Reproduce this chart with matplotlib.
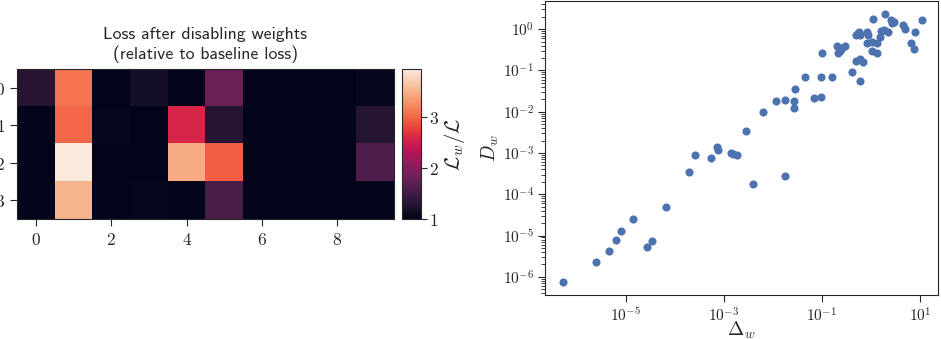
import numpy as np
import matplotlib
matplotlib.use("Agg")
import matplotlib.pyplot as plt
import seaborn as sns
from matplotlib.ticker import FixedLocator, FuncFormatter, LogLocator, NullLocator, NullFormatter

sns.set_style("ticks")
plt.rcParams["mathtext.fontset"] = "cm"
plt.rcParams["axes.edgecolor"] = ".15"

# heatmap: loss after disabling weight (row, col) relative to baseline loss
loss_ratio = np.array([
    [1.32, 3.08, 1.00, 1.17, 1.00, 1.82, 1.00, 1.00, 1.00, 1.05],
    [1.00, 3.00, 1.04, 1.00, 2.58, 1.30, 1.00, 1.00, 1.02, 1.30],
    [1.00, 3.94, 1.00, 1.00, 3.45, 2.95, 1.00, 1.00, 1.00, 1.62],
    [1.00, 3.52, 1.00, 1.04, 1.00, 1.58, 1.00, 1.00, 1.00, 1.00],
])

# scatter: log10 of Delta_w and D_w for each weight
log_delta = [-6.29, -5.61, -5.35, -5.20, -5.10, -4.86, -4.57, -4.47, -4.18, -3.72,
             -3.58, -3.26, -3.15, -3.11, -2.85, -2.82, -2.73, -2.55, -2.40, -2.21,
             -1.93, -1.76, -1.76, -1.57, -1.57, -1.54, -1.35, -1.16, -1.01, -1.01,
             -0.99, -0.80, -0.70, -0.67, -0.62, -0.58, -0.53, -0.39, -0.31, -0.31,
             -0.27, -0.24, -0.22, -0.22, -0.22, -0.17, -0.07, -0.06, -0.08, 0.02,
             0.03, 0.05, 0.12, 0.13, 0.18, 0.20, 0.27, 0.29, 0.34, 0.42,
             0.44, 0.47, 0.65, 0.69, 0.81, 0.88, 0.90, 1.05]
log_dw = [-6.12, -5.65, -5.38, -5.11, -4.90, -4.60, -5.27, -5.12, -4.30, -3.45,
          -3.06, -3.13, -2.85, -2.93, -2.99, -3.02, -3.06, -2.47, -3.75, -2.01,
          -1.75, -1.72, -3.55, -1.75, -1.90, -1.46, -1.17, -1.67, -1.64, -1.17,
          -0.57, -1.16, -0.42, -0.58, -0.52, -0.46, -0.40, -1.03, -0.14, -0.76,
          -0.10, -0.06, -0.15, -0.72, -1.25, -0.80, -0.06, -0.14, -0.34, -0.54,
          -0.32, 0.25, -0.34, -0.57, -0.19, -0.04, -0.02, 0.37, -0.08, 0.23,
          0.15, 0.18, 0.11, 0.01, -0.34, -0.49, -0.06, 0.21]

delta_w = 10.0 ** np.array(log_delta)
d_w = 10.0 ** np.array(log_dw)

fig = plt.figure(figsize=(9.41, 3.39), dpi=100)
ax_h = fig.add_axes([0.018, 0.354, 0.4006, 0.4425])
ax_c = fig.add_axes([0.4272, 0.354, 0.0202, 0.4425])
ax_s = fig.add_axes([0.5792, 0.1298, 0.4176, 0.867])

math_fmt = FuncFormatter(lambda v, p: r"$%d$" % int(round(v)))

# --- heatmap ---
im = ax_h.imshow(loss_ratio, cmap="rocket", aspect="auto", interpolation="nearest",
                 vmin=loss_ratio.min(), vmax=loss_ratio.max())
ax_h.set_xticks([0, 2, 4, 6, 8])
ax_h.set_yticks([0, 1, 2, 3])
ax_h.xaxis.set_major_formatter(math_fmt)
ax_h.yaxis.set_major_formatter(math_fmt)
ax_h.tick_params(labelsize=12.5, length=5)
ax_h.set_title("Loss after disabling weights\n(relative to baseline loss)",
               family="cmss10", fontsize=12.8, pad=7, linespacing=1.25)

cb = fig.colorbar(im, cax=ax_c)
cb.set_ticks([1, 2, 3])
cb.ax.yaxis.set_major_formatter(math_fmt)
cb.ax.tick_params(labelsize=12.5, length=4, pad=2)
cb.set_label(r"$\mathcal{L}_w/\mathcal{L}$", fontsize=15, labelpad=2)

# --- scatter ---
ax_s.scatter(delta_w, d_w, s=34, color="#4c72b0", linewidths=0)
ax_s.set_xscale("log")
ax_s.set_yscale("log")
ax_s.set_xlim(10 ** -6.65, 10 ** 1.37)
ax_s.set_ylim(10 ** -6.44, 10 ** 0.68)

log_fmt = FuncFormatter(lambda v, p: r"$10^{%d}$" % int(round(np.log10(v))))
ax_s.xaxis.set_major_locator(FixedLocator([1e-5, 1e-3, 1e-1, 1e1]))
ax_s.xaxis.set_minor_locator(NullLocator())
ax_s.xaxis.set_major_formatter(log_fmt)
ax_s.yaxis.set_major_locator(FixedLocator([10.0 ** k for k in range(-6, 1)]))
ax_s.yaxis.set_minor_locator(LogLocator(base=10, subs=np.arange(2, 10), numticks=20))
ax_s.yaxis.set_minor_formatter(NullFormatter())
ax_s.yaxis.set_major_formatter(log_fmt)
ax_s.tick_params(which="major", labelsize=11, length=5, pad=3)
ax_s.tick_params(which="minor", length=3)
ax_s.set_xlabel(r"$\Delta_w$", fontsize=14)
ax_s.xaxis.set_label_coords(0.5, -0.085)
ax_s.set_ylabel(r"$D_w$", fontsize=14, labelpad=1)

fig.savefig("out.png", dpi=100)
